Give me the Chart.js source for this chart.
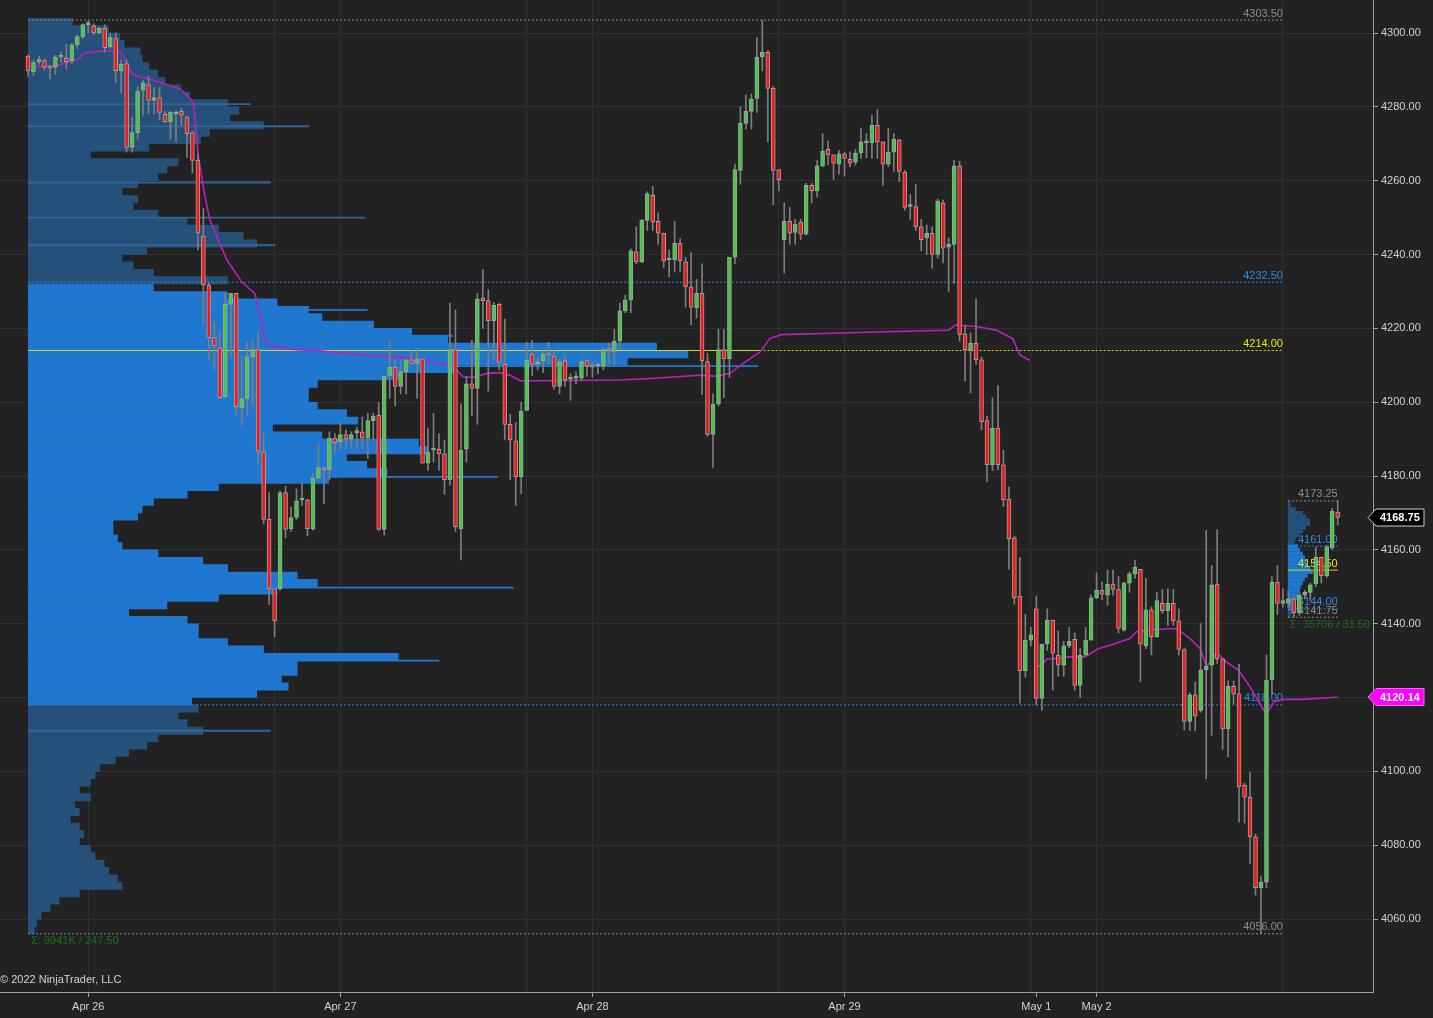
<!DOCTYPE html>
<html>
<head>
<meta charset="utf-8">
<title>ES 30 min with volume profile</title>
<script src="https://cdn.jsdelivr.net/npm/chart.js@4.4.1/dist/chart.umd.min.js"></script>
<style>
  html, body { margin: 0; padding: 0; background: #222222; overflow: hidden; }
  canvas { display: block; }
</style>
</head>
<body>
<canvas id="chart" width="1433" height="1018"></canvas>
<script>
// --- 30 minute bars, index 0 = first bar on the chart ---
const opens = [
  4293.75, 4289.5, 4292.25, 4292.5, 4290.75, 4290.75, 4293.5, 4293.25, 4292.5, 4296.75,
  4299.0, 4302.25, 4302.0, 4300.0, 4301.25, 4296.25, 4298.5, 4289.75, 4291.75, 4269.0,
  4273.0, 4284.5, 4286.0, 4281.75, 4282.5, 4278.0, 4276.0, 4278.0, 4278.75, 4277.25,
  4273.0, 4265.5, 4245.0, 4231.75, 4217.5, 4214.75, 4201.5, 4226.5, 4229.5, 4198.5,
  4201.0, 4212.25, 4214.25, 4186.5, 4168.25, 4149.5, 4149.5, 4175.5, 4165.75, 4168.75,
  4173.5, 4173.5, 4165.75, 4179.5, 4182.0, 4181.75, 4190.25, 4189.25, 4191.25, 4190.0,
  4191.75, 4192.0, 4190.25, 4195.0, 4196.5, 4165.5, 4207.25, 4209.5, 4204.25, 4208.25,
  4211.5, 4210.5, 4211.75, 4183.5, 4187.0, 4187.25, 4186.0, 4179.0, 4214.25, 4165.75,
  4187.25, 4205.0, 4203.75, 4228.25, 4227.5, 4222.0, 4226.5, 4210.25, 4194.0, 4189.5,
  4179.75, 4197.75, 4213.0, 4210.25, 4211.25, 4213.25, 4212.5, 4204.25, 4211.25, 4206.25,
  4206.5, 4206.5, 4211.25, 4210.0, 4209.75, 4209.75, 4214.25, 4213.75, 4216.5, 4224.75,
  4227.75, 4240.75, 4238.0, 4249.25, 4256.0, 4249.0, 4245.75, 4238.5, 4238.5, 4243.0,
  4238.0, 4231.25, 4225.5, 4229.5, 4211.0, 4191.25, 4199.5, 4214.25, 4211.75, 4239.25,
  4262.75, 4275.5, 4278.75, 4282.25, 4293.5, 4294.75, 4285.0, 4263.0, 4244.0, 4249.0,
  4246.0, 4248.75, 4245.5, 4258.75, 4257.25, 4264.0, 4268.5, 4267.0, 4264.5, 4267.25,
  4265.75, 4265.0, 4267.5, 4270.25, 4270.25, 4275.0, 4270.5, 4264.5, 4267.75, 4271.0,
  4262.25, 4253.0, 4253.0, 4247.5, 4244.5, 4245.75, 4240.0, 4254.0, 4242.0, 4242.75,
  4264.0, 4218.5, 4214.0, 4216.0, 4211.5, 4195.0, 4183.0, 4193.0, 4183.0, 4173.75,
  4163.25, 4147.5, 4127.25, 4135.5, 4144.0, 4119.75, 4134.5, 4141.0, 4131.5, 4128.75,
  4134.0, 4135.75, 4123.25, 4131.5, 4135.5, 4147.0, 4149.0, 4147.75, 4150.75, 4149.25,
  4138.25, 4151.0, 4153.5, 4154.75, 4134.0, 4143.75, 4136.5, 4145.5, 4143.5, 4145.5,
  4140.75, 4133.0, 4113.5, 4120.75, 4116.5, 4127.5, 4128.75, 4150.75, 4130.5, 4111.5,
  4123.0, 4121.0, 4096.25, 4093.0, 4082.25, 4068.5, 4070.0, 4124.75, 4151.25, 4145.5,
  4145.5, 4146.75, 4143.0, 4147.75, 4148.5, 4150.75, 4158.0, 4153.0, 4160.5, 4170.25
];
const highs = [
  4294.0, 4292.75, 4293.75, 4293.0, 4291.25, 4294.0, 4294.75, 4297.0, 4297.25, 4299.5,
  4302.5, 4303.25, 4302.5, 4301.5, 4302.25, 4300.0, 4300.0, 4292.75, 4292.75, 4277.25,
  4285.5, 4287.25, 4288.25, 4285.25, 4285.25, 4278.75, 4278.75, 4279.0, 4279.5, 4277.5,
  4273.25, 4267.25, 4252.5, 4232.25, 4221.75, 4219.0, 4229.5, 4229.5, 4229.5, 4212.5,
  4216.25, 4216.75, 4219.0, 4191.5, 4175.5, 4149.5, 4176.0, 4177.25, 4171.5, 4176.5,
  4178.0, 4173.75, 4180.75, 4188.75, 4182.5, 4192.0, 4191.5, 4194.75, 4192.5, 4192.0,
  4193.25, 4196.0, 4197.0, 4197.0, 4200.0, 4207.0, 4216.75, 4211.5, 4211.5, 4211.75,
  4214.0, 4214.5, 4211.75, 4193.0, 4197.0, 4191.5, 4189.75, 4226.75, 4225.0, 4199.5,
  4207.0, 4216.75, 4229.5, 4236.0, 4230.5, 4227.0, 4226.75, 4222.5, 4196.75, 4194.5,
  4200.0, 4216.25, 4216.75, 4212.25, 4214.0, 4216.25, 4214.0, 4211.75, 4212.75, 4207.75,
  4208.25, 4211.75, 4211.75, 4211.0, 4210.5, 4214.75, 4216.0, 4219.75, 4226.75, 4229.0,
  4241.5, 4247.5, 4249.5, 4257.0, 4258.5, 4251.25, 4245.75, 4241.25, 4249.0, 4244.25,
  4239.25, 4240.5, 4233.25, 4237.5, 4213.25, 4202.25, 4219.75, 4219.75, 4239.25, 4264.5,
  4280.0, 4283.25, 4283.5, 4298.75, 4303.5, 4295.25, 4285.5, 4263.0, 4254.0, 4252.75,
  4249.5, 4249.5, 4259.25, 4259.25, 4265.5, 4272.75, 4270.75, 4267.0, 4268.25, 4267.75,
  4267.75, 4268.5, 4274.25, 4272.75, 4277.75, 4279.25, 4270.5, 4274.25, 4272.75, 4271.25,
  4262.75, 4256.25, 4259.0, 4249.5, 4248.0, 4247.5, 4255.0, 4254.75, 4244.5, 4265.5,
  4265.25, 4220.75, 4218.75, 4228.0, 4212.25, 4196.25, 4201.25, 4204.5, 4187.0, 4177.0,
  4163.75, 4158.0, 4142.5, 4139.0, 4147.5, 4134.5, 4144.0, 4141.0, 4138.0, 4135.25,
  4139.0, 4137.5, 4133.25, 4139.0, 4147.75, 4153.75, 4151.25, 4154.5, 4154.5, 4152.75,
  4151.25, 4154.0, 4157.25, 4154.75, 4152.25, 4144.5, 4148.5, 4149.25, 4149.5, 4149.25,
  4144.0, 4133.25, 4121.25, 4124.25, 4140.0, 4165.25, 4155.75, 4165.5, 4130.5, 4124.5,
  4124.5, 4129.0, 4096.75, 4099.75, 4083.0, 4071.5, 4131.5, 4152.75, 4155.75, 4149.5,
  4149.0, 4147.25, 4148.5, 4149.0, 4151.0, 4160.75, 4158.0, 4161.25, 4171.25, 4173.25
];
const lows = [
  4288.25, 4288.5, 4291.5, 4290.0, 4287.5, 4288.75, 4292.0, 4290.25, 4291.75, 4295.75,
  4298.5, 4300.0, 4299.5, 4299.75, 4294.75, 4295.75, 4286.5, 4283.75, 4267.75, 4267.75,
  4271.25, 4277.75, 4278.25, 4278.0, 4276.5, 4275.75, 4271.25, 4270.5, 4275.0, 4266.25,
  4262.0, 4241.25, 4221.25, 4211.5, 4208.75, 4201.0, 4201.25, 4212.25, 4196.25, 4193.75,
  4196.5, 4199.25, 4183.25, 4167.0, 4145.25, 4136.5, 4149.0, 4163.25, 4165.0, 4168.25,
  4172.0, 4163.75, 4165.25, 4179.0, 4172.5, 4179.0, 4186.25, 4187.0, 4188.0, 4187.5,
  4187.25, 4187.5, 4184.75, 4189.75, 4165.25, 4164.0, 4201.0, 4199.0, 4202.25, 4202.25,
  4210.0, 4201.0, 4183.5, 4181.5, 4183.75, 4181.5, 4175.0, 4177.5, 4165.0, 4157.25,
  4183.75, 4196.25, 4194.0, 4220.0, 4203.0, 4211.5, 4208.75, 4189.75, 4179.0, 4172.0,
  4175.25, 4197.75, 4207.25, 4208.75, 4208.0, 4210.5, 4203.5, 4202.25, 4204.25, 4200.5,
  4205.0, 4206.0, 4207.0, 4206.75, 4207.75, 4208.75, 4210.5, 4210.0, 4214.5, 4224.25,
  4224.25, 4237.5, 4237.75, 4246.5, 4246.5, 4242.75, 4236.5, 4234.0, 4235.25, 4235.5,
  4225.75, 4221.0, 4222.75, 4202.0, 4190.75, 4182.25, 4199.0, 4201.25, 4206.75, 4237.5,
  4259.0, 4274.0, 4274.0, 4278.5, 4289.75, 4270.5, 4253.5, 4257.25, 4235.0, 4242.75,
  4242.75, 4244.0, 4245.25, 4254.0, 4255.5, 4263.75, 4264.25, 4260.25, 4261.75, 4261.25,
  4263.75, 4264.25, 4266.0, 4266.25, 4266.0, 4266.0, 4258.75, 4263.75, 4262.5, 4259.75,
  4252.0, 4249.5, 4246.5, 4241.0, 4240.0, 4236.25, 4239.0, 4237.75, 4230.0, 4232.25,
  4216.5, 4205.75, 4202.5, 4210.25, 4192.5, 4178.5, 4181.5, 4181.75, 4171.75, 4154.75,
  4145.25, 4118.5, 4125.5, 4134.0, 4118.0, 4116.5, 4132.75, 4122.0, 4125.75, 4125.75,
  4133.5, 4122.0, 4120.0, 4131.5, 4135.5, 4146.75, 4146.5, 4145.0, 4147.75, 4137.5,
  4138.0, 4148.5, 4152.25, 4124.25, 4133.25, 4131.5, 4136.25, 4142.75, 4139.5, 4139.5,
  4131.5, 4111.25, 4111.0, 4111.0, 4116.0, 4098.0, 4109.75, 4129.25, 4106.0, 4104.0,
  4118.25, 4086.25, 4086.0, 4075.0, 4066.5, 4056.0, 4068.5, 4121.0, 4142.5, 4144.5,
  4144.5, 4141.75, 4142.25, 4146.75, 4146.25, 4150.0, 4151.0, 4152.5, 4160.0, 4166.75
];
const closes = [
  4289.75, 4292.0, 4292.5, 4290.75, 4290.5, 4293.5, 4293.75, 4292.25, 4296.75, 4299.0,
  4302.25, 4302.25, 4300.0, 4301.25, 4296.0, 4298.75, 4289.75, 4291.5, 4269.0, 4273.0,
  4284.25, 4286.5, 4281.75, 4282.5, 4278.5, 4276.0, 4278.5, 4278.5, 4277.75, 4272.75,
  4265.5, 4245.75, 4231.75, 4217.5, 4215.25, 4201.25, 4226.5, 4229.5, 4198.75, 4201.0,
  4212.25, 4214.25, 4186.75, 4168.25, 4149.5, 4140.75, 4175.5, 4165.5, 4168.75, 4173.25,
  4173.75, 4165.75, 4179.5, 4182.25, 4181.75, 4190.25, 4189.0, 4191.25, 4190.0, 4191.25,
  4191.75, 4190.25, 4195.0, 4196.25, 4165.5, 4207.0, 4209.5, 4204.25, 4208.25, 4211.5,
  4210.5, 4211.75, 4183.5, 4186.5, 4187.25, 4186.0, 4179.0, 4214.25, 4166.25, 4187.0,
  4205.0, 4203.75, 4228.0, 4227.5, 4222.0, 4226.25, 4210.75, 4194.0, 4189.75, 4179.75,
  4197.5, 4211.5, 4210.25, 4211.0, 4213.0, 4212.75, 4204.25, 4211.0, 4206.0, 4206.25,
  4206.5, 4211.0, 4209.75, 4209.5, 4209.75, 4214.25, 4214.0, 4216.5, 4224.75, 4227.75,
  4241.0, 4238.0, 4249.25, 4256.5, 4248.75, 4245.75, 4238.25, 4238.5, 4243.0, 4238.25,
  4231.25, 4225.75, 4229.5, 4211.25, 4191.25, 4199.5, 4214.25, 4211.75, 4239.25, 4263.0,
  4275.5, 4278.75, 4282.0, 4293.5, 4294.75, 4285.0, 4262.75, 4260.25, 4249.0, 4245.75,
  4248.25, 4245.5, 4258.75, 4257.25, 4264.0, 4268.0, 4267.0, 4264.75, 4267.25, 4266.0,
  4264.75, 4267.5, 4270.5, 4270.25, 4275.0, 4270.5, 4264.5, 4267.75, 4271.25, 4262.5,
  4252.75, 4253.0, 4247.5, 4244.0, 4245.75, 4240.0, 4254.5, 4241.75, 4242.75, 4264.0,
  4218.25, 4214.25, 4216.0, 4211.5, 4194.75, 4183.0, 4193.0, 4183.0, 4173.5, 4163.0,
  4147.0, 4127.25, 4135.5, 4137.0, 4119.75, 4134.5, 4141.0, 4132.0, 4128.75, 4134.0,
  4135.25, 4123.25, 4131.5, 4135.5, 4147.0, 4149.0, 4148.0, 4150.75, 4149.25, 4138.75,
  4151.0, 4153.5, 4155.25, 4134.5, 4143.75, 4136.5, 4146.25, 4143.5, 4145.5, 4140.75,
  4133.0, 4113.5, 4120.75, 4115.0, 4127.5, 4128.5, 4150.5, 4130.5, 4111.5, 4123.0,
  4121.0, 4095.75, 4093.0, 4082.25, 4068.5, 4070.0, 4124.75, 4151.25, 4145.5, 4146.25,
  4146.75, 4143.0, 4147.75, 4148.5, 4150.5, 4158.0, 4153.0, 4160.75, 4170.5, 4168.75
];

// --- time axis: bar index of each day label and of each session open ---
const dayIdx = [11, 57, 103, 149, 184, 195];
const dayText = ['Apr 26', 'Apr 27', 'Apr 28', 'Apr 29', 'May 1', 'May 2'];
const sessionIdx = [45, 91, 137, 183, 229];

// --- VWAP line (bar index, price), two separate runs ---
const vwapIdx1 = [1.3, 4.6, 7.7, 9.2, 10.1, 13.7, 16.2, 17.1, 18.0, 19.2, 21.7, 24.7, 28.0, 29.9, 30.2, 31.1,
  32.3, 33.2, 36.3, 39.0, 41.4, 42.3, 43.2, 44.2, 48.4, 53.3, 61.8, 70.9, 75.2, 77.6, 79.4, 81.2,
  83.8, 86.1, 88.0, 89.8, 93.4, 108, 113.5, 122.6, 125.7, 128.1, 130.5, 133.6, 135.4, 137.5, 150,
  160, 168, 169.2, 173.1, 176.8, 179.7, 181, 182.8];
const vwapVal1 = [4290.9, 4290.9, 4292.2, 4292.9, 4294.5, 4295.1, 4295.2, 4294.5, 4291.8, 4288.6, 4287.7,
  4286.4, 4284.6, 4281.8, 4281.0, 4266.5, 4255.6, 4249.3, 4238.5, 4232.6, 4229.4, 4224.0, 4216.8,
  4215.2, 4214.3, 4213.9, 4212.7, 4211.8, 4210.5, 4209.6, 4206.9, 4206.7, 4207.8, 4208.0, 4207.3,
  4205.8, 4205.8, 4206.0, 4206.4, 4207.3, 4207.0, 4207.8, 4210.5, 4213.6, 4217.3, 4218.3, 4218.8,
  4219.2, 4219.5, 4220.9, 4220.5, 4219.5, 4217.2, 4212.8, 4211.3];
const vwapIdx2 = [184, 185, 185.9, 187.1, 190.1, 192.9, 195.3, 198, 201.1, 202.3, 204.1, 206.6, 209.6,
  212, 213.9, 215.1, 216.9, 218.7, 220.9, 223, 224.8, 226, 227.3, 229.1, 232.7, 238, 239];
const vwapVal2 = [4128.3, 4128.7, 4130.4, 4130.5, 4131.0, 4131.0, 4133.2, 4134.4, 4136.0, 4137.8, 4138.2,
  4138.5, 4138.7, 4136.0, 4133.2, 4128.3, 4132.2, 4129.6, 4127.4, 4122.9, 4118.3, 4115.4, 4118.8,
  4119.5, 4119.5, 4120.0, 4120.14];

// --- composite profile: K contracts per 2 pt bin, starting at 4056 ---
const profileLow = 4056;
const profileStep = 2;
const profileVol = [
  3, 4, 6, 10, 14, 23, 42, 40, 36, 34, 30, 28, 23, 25, 23, 19, 23, 21, 28, 23,
  28, 30, 32, 39, 45, 53, 58, 78, 71, 67, 76,
  73, 102, 116, 113, 120, 120, 165, 105, 89, 76, 76, 71, 45, 62, 85, 111, 129, 120, 89,
  78, 58, 42, 40, 38, 38, 49, 51, 56, 71, 85, 134, 160, 151, 142, 178, 174, 131, 109, 147,
  142, 129, 125, 125, 129, 165, 191, 267, 294, 280, 187, 171, 154, 131, 125, 111, 89, 56,
  89, 56, 47, 42, 53, 102, 96, 85, 71, 58, 47, 49, 42, 49, 58, 62, 67, 28, 54, 77,
  81, 105, 90, 94, 89, 72, 68, 61, 58, 54, 51, 50, 43, 41, 36, 20
];
// single price ticks that stand out past their bin (price, K contracts)
const spikePrice = [4111.0, 4130.0, 4149.75, 4179.75, 4209.75, 4218.0, 4225.0, 4242.5, 4250.0, 4259.5, 4274.75, 4280.75];
const spikeVol = [108, 183, 216, 209, 325, 189, 151, 110, 150, 108, 125, 99];
const profileLevels = [4303.5, 4232.5, 4214, 4118, 4056]; // high, VA high, POC, VA low, low
const profileTotal = '9941K';
const profileFrom = 0, profileTo = 229;

// --- last session profile: contracts per 1 pt bin, starting at 4141.5 ---
const sessLow = 4141.5;
const sessStep = 1;
const sessVol = [
  250, 415, 580, 660, 660, 830, 830, 1000, 1080, 1250, 1410, 1660, 2075, 1910, 1660, 1500,
  1410, 1250, 1000, 830, 580, 660, 1000, 1250, 1500, 1830, 1830, 1500, 1250, 660, 250, 170
];
const sessLevels = [4173.25, 4161, 4154.5, 4144, 4141.75];
const sessTotal = '35706';
const sessFrom = 229.9, sessTo = 239;

const levelKind = ['range', 'va', 'poc', 'va', 'range'];

// --- look ---
const upColor = '#45c845';
const downColor = '#f51818';
const outline = '#a2a2a2';
const wickColor = '#7e7e7e';
const vaFill = '#1f77d0';
const outFill = '#24507a';
const lineColors = { range: '#8a8a8a', va: '#2a84de', poc: '#d8d820' };
const textColors = { range: '#8c8c8c', va: '#2d8ae6', poc: '#e8e800' };
const gridColor = '#303030';
const axisColor = '#a0a0a0';
const labelColor = '#d2d2d2';
const FONT = '"Liberation Sans", Arial, sans-serif';

// --- scale ranges: bar index on x, price on y ---
const xMin = -5.11, xMax = 245.44;
const yMin = 4040.23, yMax = 4308.94;
const kPerBar = 2.44;      // composite profile: K contracts per bar width
const cPerBar = 455;       // session profile: contracts per bar width

const fmt = v => v.toFixed(2);
const inVA = (p, levels) => p >= levels[3] && p <= levels[1];

// --- datasets ---
const wickData = highs.map((h, i) => ({ x: i, y: [lows[i], h] }));
const bodyData = opens.map((o, i) => ({ x: i, y: [o, closes[i]] }));
const bodyColors = opens.map((o, i) => closes[i] >= o ? upColor : downColor);

const profileData = profileVol.map((v, i) => ({ x: v, y: profileLow + profileStep * (i + 0.5) }));
const profileColors = profileData.map(d => inVA(d.y, profileLevels) ? vaFill : outFill);
const spikeData = spikeVol.map((v, i) => ({ x: v, y: spikePrice[i] }));
const spikeColors = spikePrice.map(p => inVA(p, profileLevels) ? vaFill : '#2f6597');
const sessData = sessVol.map((v, i) => ({ x: v, y: sessLow + sessStep * (i + 0.5) }));
const sessColors = sessData.map(d => inVA(d.y, sessLevels) ? vaFill : outFill);

const vwapData = vwapIdx1.map((x, i) => ({ x, y: vwapVal1[i] }))
  .concat([{ x: 183.4, y: null }])
  .concat(vwapIdx2.map((x, i) => ({ x, y: vwapVal2[i] })));

function levelLine(price, from, to, kind, solid) {
  return {
    type: 'line',
    data: [{ x: from, y: price }, { x: to, y: price }],
    borderColor: lineColors[kind],
    borderWidth: 1,
    borderDash: solid ? [] : [2, 2],
    pointRadius: 0,
    xAxisID: 'x', yAxisID: 'y',
    order: 8
  };
}

const levelSets = [];
profileLevels.forEach((p, i) => {
  if (levelKind[i] === 'poc') {
    levelSets.push(levelLine(p, profileFrom, 133.5, 'poc', true));
    levelSets.push(levelLine(p, 133.5, profileTo, 'poc', false));
  } else {
    levelSets.push(levelLine(p, profileFrom, profileTo, levelKind[i], false));
  }
});
sessLevels.forEach((p, i) => {
  levelSets.push(levelLine(p, sessFrom, sessTo, levelKind[i], levelKind[i] === 'poc'));
});

// --- texts drawn through the scales ---
function drawMarker(ctx, area, yPix, text, fill, border) {
  const tip = area.right - 5, left = area.right + 3, right = area.right + 51, h = 8.5;
  ctx.beginPath();
  ctx.moveTo(tip, yPix);
  ctx.lineTo(left, yPix - h);
  ctx.lineTo(right, yPix - h);
  ctx.lineTo(right, yPix + h);
  ctx.lineTo(left, yPix + h);
  ctx.closePath();
  ctx.fillStyle = fill;
  ctx.fill();
  ctx.strokeStyle = border;
  ctx.lineWidth = 1;
  ctx.stroke();
  ctx.fillStyle = '#ffffff';
  ctx.font = 'bold 11px ' + FONT;
  ctx.textAlign = 'left';
  ctx.textBaseline = 'middle';
  ctx.fillText(text, left + 4, yPix + 0.5);
}

const overlay = {
  id: 'overlay',
  beforeDatasetDraw(chart, args) {
    if (chart.data.datasets[args.index].label !== 'vwap') return;
    const { ctx, scales: { x, y } } = chart;
    ctx.save();
    ctx.font = '11px ' + FONT;
    ctx.textAlign = 'right';
    ctx.textBaseline = 'bottom';
    profileLevels.forEach((p, i) => {
      ctx.fillStyle = textColors[levelKind[i]];
      ctx.fillText(fmt(p), x.getPixelForValue(profileTo), y.getPixelForValue(p) - 1);
    });
    sessLevels.forEach((p, i) => {
      ctx.fillStyle = textColors[levelKind[i]];
      ctx.fillText(fmt(p), x.getPixelForValue(sessTo), y.getPixelForValue(p) - 1);
    });
    ctx.restore();
  },
  afterDraw(chart) {
    const { ctx, chartArea, scales: { x, y } } = chart;
    ctx.save();
    ctx.font = '11px ' + FONT;
    ctx.textAlign = 'left';
    ctx.textBaseline = 'top';
    ctx.fillStyle = '#1b6e1b';
    ctx.fillText('\u03A3: ' + profileTotal + ' / ' + fmt(profileLevels[0] - profileLevels[4]),
      x.getPixelForValue(profileFrom) + 3, y.getPixelForValue(profileLevels[4]) + 2);
    ctx.fillText('\u03A3: ' + sessTotal + ' / ' + fmt(sessLevels[0] - sessLevels[4]),
      x.getPixelForValue(sessFrom) + 2, y.getPixelForValue(sessLevels[4]) + 2);

    ctx.fillStyle = labelColor;
    ctx.textBaseline = 'middle';
    ctx.fillText('\u00A9 2022 NinjaTrader, LLC', chartArea.left, chartArea.bottom - 12);

    drawMarker(ctx, chartArea, y.getPixelForValue(closes[closes.length - 1]),
      fmt(closes[closes.length - 1]), '#000000', '#cfcfcf');
    const lastVwap = vwapVal2[vwapVal2.length - 1];
    drawMarker(ctx, chartArea, y.getPixelForValue(lastVwap), fmt(lastVwap), '#ff00ff', '#ff66ff');
    ctx.restore();
  }
};

// --- x ticks: day labels plus session opens ---
const xTicks = Array.from(new Set(dayIdx.concat(sessionIdx))).sort((a, b) => a - b);
const gridIdx = sessionIdx.concat(dayIdx.filter(d => !sessionIdx.some(s => Math.abs(s - d) <= 1)));

const hiddenY = {
  type: 'linear', axis: 'y', display: false, offset: false, bounds: 'data', beginAtZero: false,
  min: yMin, max: yMax, grid: { offset: false }
};

const chart = new Chart(document.getElementById('chart'), {
  type: 'bar',
  data: {
    datasets: [
      {
        label: 'profile',
        indexAxis: 'y',
        data: profileData,
        backgroundColor: profileColors,
        xAxisID: 'xp', yAxisID: 'yp',
        grouped: false,
        categoryPercentage: 1,
        barPercentage: 1.08,
        order: 11
      },
      {
        label: 'profile spikes',
        indexAxis: 'y',
        data: spikeData,
        backgroundColor: spikeColors,
        xAxisID: 'xp', yAxisID: 'ys',
        grouped: false,
        categoryPercentage: 1,
        barPercentage: 1,
        maxBarThickness: 1.2,
        order: 10
      },
      {
        label: 'session profile',
        indexAxis: 'y',
        data: sessData,
        backgroundColor: sessColors,
        xAxisID: 'xq', yAxisID: 'yq',
        grouped: false,
        categoryPercentage: 1,
        barPercentage: 1.08,
        order: 10
      },
      ...levelSets,
      {
        label: 'vwap',
        type: 'line',
        data: vwapData,
        borderColor: '#bd1fbd',
        borderWidth: 1.6,
        pointRadius: 0,
        tension: 0,
        spanGaps: false,
        xAxisID: 'x', yAxisID: 'y',
        order: 5
      },
      {
        label: 'wicks',
        data: wickData,
        backgroundColor: wickColor,
        xAxisID: 'x', yAxisID: 'y',
        grouped: false,
        categoryPercentage: 1,
        barPercentage: 1,
        maxBarThickness: 1,
        order: 3
      },
      {
        label: 'bodies',
        data: bodyData,
        backgroundColor: bodyColors,
        borderColor: outline,
        borderWidth: 1,
        borderSkipped: false,
        minBarLength: 2,
        xAxisID: 'x', yAxisID: 'y',
        grouped: false,
        categoryPercentage: 1,
        barPercentage: 1,
        maxBarThickness: 4,
        order: 2
      }
    ]
  },
  options: {
    responsive: false,
    devicePixelRatio: 1,
    animation: false,
    events: [],
    layout: { padding: 0 },
    plugins: { legend: { display: false }, tooltip: { enabled: false } },
    scales: {
      x: {
        type: 'linear', axis: 'x', position: 'bottom',
        min: xMin, max: xMax, bounds: 'data', offset: false,
        afterBuildTicks: s => { s.ticks = xTicks.map(v => ({ value: v })); },
        afterFit: s => { s.height = 26; s.paddingLeft = 0; s.paddingRight = 0; },
        ticks: {
          autoSkip: false, maxRotation: 0, padding: 3,
          color: labelColor, font: { family: FONT, size: 11 },
          callback: v => { const k = dayIdx.indexOf(v); return k >= 0 ? dayText[k] : ''; }
        },
        grid: {
          offset: false,
          color: c => (c.tick && gridIdx.includes(c.tick.value)) ? gridColor : 'rgba(0,0,0,0)',
          tickColor: c => (c.tick && dayIdx.includes(c.tick.value)) ? axisColor : 'rgba(0,0,0,0)',
          tickLength: 5
        },
        border: { display: true, color: axisColor, width: 1 }
      },
      y: {
        type: 'linear', axis: 'y', position: 'right',
        min: yMin, max: yMax, bounds: 'data', offset: false, beginAtZero: false,
        afterBuildTicks: s => {
          const t = [];
          for (let v = 4060; v <= 4300; v += 20) t.push({ value: v });
          s.ticks = t;
        },
        afterFit: s => { s.width = 60; s.paddingTop = 0; s.paddingBottom = 0; },
        ticks: {
          padding: 3, color: labelColor, font: { family: FONT, size: 11 },
          callback: v => fmt(v)
        },
        grid: { color: gridColor, tickColor: axisColor, tickLength: 5, offset: false },
        border: { display: true, color: axisColor, width: 1 }
      },
      xp: {
        type: 'linear', axis: 'x', display: false, offset: false, bounds: 'data',
        min: xMin * kPerBar, max: xMax * kPerBar, grid: { offset: false }
      },
      yp: hiddenY,
      ys: hiddenY,
      xq: {
        type: 'linear', axis: 'x', display: false, offset: false, bounds: 'data',
        min: (xMin - sessFrom) * cPerBar, max: (xMax - sessFrom) * cPerBar, grid: { offset: false }
      },
      yq: hiddenY
    }
  },
  plugins: [overlay]
});
</script>
</body>
</html>
